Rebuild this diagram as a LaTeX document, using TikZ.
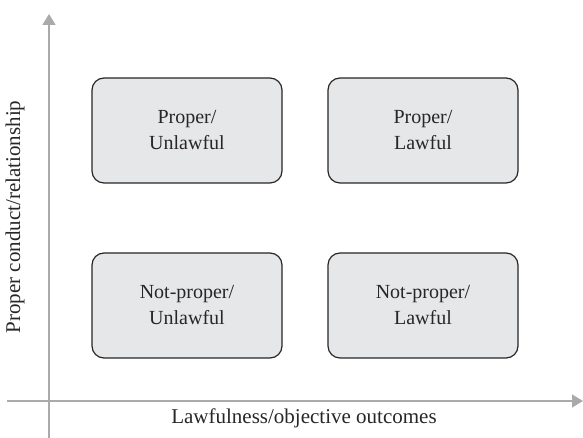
\documentclass[tikz,border=0pt]{standalone}
\usepackage{fontspec}
\setmainfont{Liberation Serif}
\usepackage{tikz}
\usetikzlibrary{arrows.meta}
\definecolor{axisgray}{RGB}{170,170,170}
\definecolor{boxfill}{RGB}{230,231,232}
\definecolor{inkgray}{RGB}{40,38,38}
\tikzstyle{quad} = [draw=inkgray, fill=boxfill, line width=0.6pt, rounded corners=6pt,
  minimum width=95pt, minimum height=52.5pt, align=center, text=inkgray,
  font=\fontsize{10}{13}\selectfont]
\tikzstyle{axis} = [draw=axisgray, line width=0.8pt, -{Triangle[width=6.5pt,length=5.5pt]}]
\tikzstyle{axislabel} = [text=inkgray, font=\fontsize{10.5}{12}\selectfont]

\begin{document}
\begin{tikzpicture}[x=0.5pt,y=0.5pt]
    \useasboundingbox (0,0) rectangle (583,438);

    % Axes
    \coordinate (ybot) at (49,0);
    \coordinate (ytop) at (49,424);
    \coordinate (xleft) at (7,37);
    \coordinate (xright) at (583,37);
    \draw[axis] (ybot) -- (ytop);
    \draw[axis] (xleft) -- (xright);

    % Quadrants
    \node[quad] (topleft) at (187,307.5) {Proper/\\Unlawful};
    \node[quad] (topright) at (423,307.5) {Proper/\\Lawful};
    \node[quad] (bottomleft) at (187,132.5) {Not-proper/\\Unlawful};
    \node[quad] (bottomright) at (423,132.5) {Not-proper/\\Lawful};

    % Labels
    \node[axislabel, rotate=90] (ylabel) at (15,221) {Proper conduct/relationship};
    \node[axislabel] (xlabel) at (304,20) {Lawfulness/objective outcomes};
\end{tikzpicture}
\end{document}
